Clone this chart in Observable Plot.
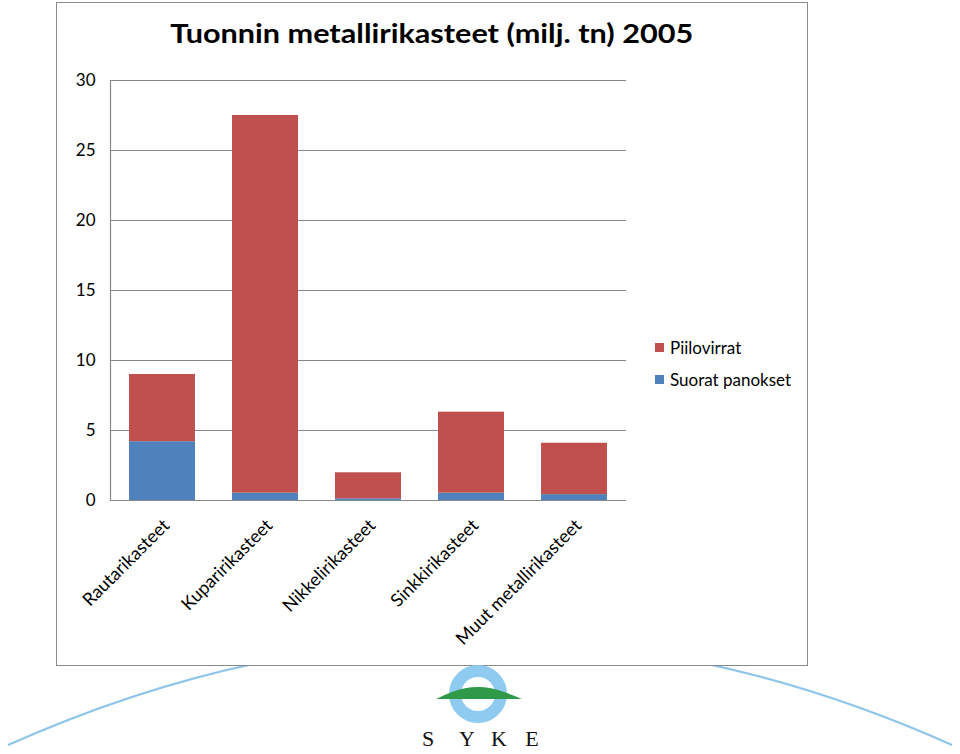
<!DOCTYPE html>
<html>
<head>
<meta charset="utf-8">
<script src="https://cdn.jsdelivr.net/npm/d3@7"></script>
<script src="https://cdn.jsdelivr.net/npm/@observablehq/plot@0.6"></script>
<style>
  html, body { margin: 0; padding: 0; background: white; }
  #page { position: relative; width: 960px; height: 754px; overflow: hidden; background: white; font-family: Lato, "Open Sans", sans-serif; }
  #deco { position: absolute; left: 0; top: 0; }
  #frame { position: absolute; left: 56px; top: 2px; width: 752px; height: 664px; box-sizing: border-box; border: 1.5px solid #8a8a8a; background: white; }
  #chart { position: absolute; left: 0; top: 0; }
  #title { position: absolute; left: 0; width: 864px; top: 19px; text-align: center; font: bold 27px Lato, sans-serif; color: #000; line-height: 1; white-space: nowrap; }
  #title span { display: inline-block; transform-origin: center; }
  #legend { position: absolute; left: 655px; top: 336px; font: 17px Lato, sans-serif; color: #000; }
  .li { display: flex; align-items: center; height: 22px; margin-bottom: 10px; }
  .sw { width: 9px; height: 9px; margin-right: 6px; }
  #logo { position: absolute; left: 0; top: 0; }
</style>
</head>
<body>
<div id="page">
  <svg id="deco" width="960" height="754">
    <path d="M8,745 Q480,534 952,745" fill="none" stroke="#8ec5e8" stroke-width="2.2"/>
  </svg>
  <div id="frame"></div>
  <div id="chart"></div>
  <div id="title"><span>Tuonnin metallirikasteet (milj. tn) 2005</span></div>
  <div id="legend"></div>
  <svg id="logo" width="960" height="754">
    <circle cx="478" cy="694" r="23" fill="white" stroke="#8fcaf0" stroke-width="12"/>
    <path d="M436,699 Q444,695 452,692 Q478,682 504,692 Q513,695 522,699 Z" fill="#2e9a48"/>
    <g font-family="'Liberation Serif', 'DejaVu Serif', serif" font-size="22" fill="#111" text-anchor="middle">
      <text x="428" y="746">S</text>
      <text x="467" y="746">Y</text>
      <text x="499" y="746">K</text>
      <text x="532" y="746">E</text>
    </g>
  </svg>
</div>
<script>
const categories = ["Rautarikasteet", "Kuparirikasteet", "Nikkelirikasteet", "Sinkkirikasteet", "Muut metallirikasteet"];
const seriesNames = ["Suorat panokset", "Piilovirrat"];
const suorat = [4.2, 0.52, 0.12, 0.52, 0.42];
const piilovirrat = [4.8, 26.98, 1.86, 5.79, 3.67];
const seriesColors = ["#4f81bd", "#c0504d"];
const yTicks = [0, 5, 10, 15, 20, 25, 30];

const rows = [];
categories.forEach((c, i) => {
  rows.push({category: c, series: seriesNames[0], value: suorat[i]});
  rows.push({category: c, series: seriesNames[1], value: piilovirrat[i]});
});

const plot = Plot.plot({
  width: 960,
  height: 754,
  marginLeft: 110,
  marginRight: 334,
  marginTop: 80,
  marginBottom: 254,
  style: {background: "transparent", fontFamily: "Lato, sans-serif", color: "#000"},
  x: {domain: categories, paddingInner: 0.36, paddingOuter: 0.18, label: null},
  y: {domain: [0, 30], label: null},
  color: {domain: seriesNames, range: seriesColors},
  marks: [
    Plot.ruleY(yTicks, {stroke: "#888", strokeWidth: 1.2}),
    Plot.frame({anchor: "left", stroke: "#888", strokeWidth: 1.2}),
    Plot.barY(rows, {x: "category", y: "value", fill: "series", order: seriesNames}),
    Plot.axisY({ticks: yTicks, tickSize: 0, tickPadding: 15, fontSize: 17, label: null}),
    Plot.axisX({tickSize: 0, tickRotate: -45, tickPadding: 22, dx: 4, fontSize: 18, label: null})
  ]
});
document.getElementById("chart").appendChild(plot);

const legend = document.getElementById("legend");
[1, 0].forEach(i => {
  const d = document.createElement("div");
  d.className = "li";
  d.innerHTML = `<span class="sw" style="background:${seriesColors[i]}"></span><span>${seriesNames[i]}</span>`;
  legend.appendChild(d);
});

const ts = document.querySelector("#title span");
const w = ts.getBoundingClientRect().width;
ts.style.transform = `scaleX(${523 / w})`;
</script>
</body>
</html>
